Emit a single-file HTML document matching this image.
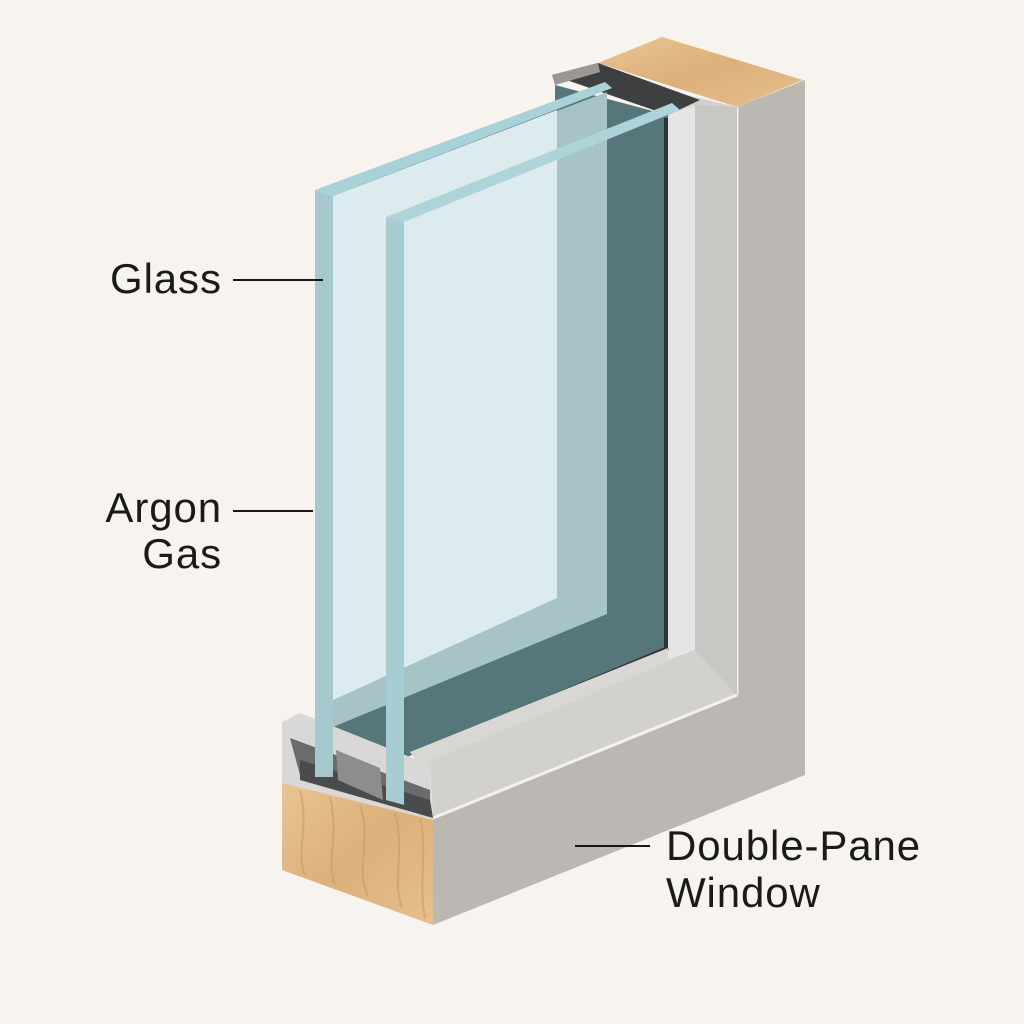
<!DOCTYPE html>
<html><head><meta charset="utf-8"><style>
html,body{margin:0;padding:0;background:#f7f4f0;}
svg{display:block}
text{font-family:"Liberation Sans","DejaVu Sans",sans-serif;fill:#1a1a1a;font-size:42px;letter-spacing:0.9px}
</style></head><body>
<svg width="1024" height="1024" viewBox="0 0 1024 1024" xmlns="http://www.w3.org/2000/svg">
<rect width="1024" height="1024" fill="#f7f4f0"/>
<defs>
<linearGradient id="wood" x1="0" y1="0" x2="1" y2="1">
<stop offset="0" stop-color="#e9c592"/><stop offset="0.5" stop-color="#dcb07a"/><stop offset="1" stop-color="#e6c08d"/>
</linearGradient>
</defs>
<polygon points="598,63 662,37 803,80 737,107" fill="url(#wood)"/>
<polygon points="737,107 805,80 805,775 433,925 433,818 737,695" fill="#bbb8b4"/>
<polygon points="590,72 737,107 737,695 433,818 430,770 410,760 660,655 668,118" fill="#d3d1ce"/>
<line x1="737" y1="107" x2="737" y2="695" stroke="#f2f1ef" stroke-width="3"/>
<line x1="737" y1="695" x2="433" y2="818" stroke="#f2f1ef" stroke-width="3"/>
<polygon points="668,115 695,105 695,650 668,660" fill="#e6e5e3"/>
<polygon points="695,105 737,107 737,695 695,650" fill="#c9c7c4"/>
<polygon points="552,75 598,63 700,100 668,115" fill="#3d3f41"/>
<polygon points="552,75 598,63 600,72 555,85" fill="#9a9896"/>
<!-- dark recess -->
<polygon points="333,196 555,101 555,85 668,115 668,648 420,752 333,785" fill="#56767c"/>
<polygon points="664,118 668,118 668,648 664,650" fill="#2e3436"/>
<line x1="668" y1="648" x2="420" y2="752" stroke="#2e3436" stroke-width="4"/>
<polygon points="410,752 668,648 668,662 420,765" fill="#d8d7d4"/>
<polygon points="333,196 607,92 607,614 333,727" fill="#a6c3c6"/>
<polygon points="333,196 557,110 557,598 333,700" fill="#dcecee"/>
<!-- sill profile -->
<polygon points="282,722 300,713 430,765 430,775 433,820 282,783" fill="#d9d8d6"/>
<polygon points="290,738 430,790 430,815 300,775" fill="#6a6b6c"/>
<polygon points="300,760 430,800 433,818 300,780" fill="#4a4b4c"/>
<polygon points="336,750 380,768 383,800 338,780" fill="#8b8d8f"/>
<polygon points="282,783 433,820 433,925 282,870" fill="url(#wood)"/>
<g stroke="#c99a63" stroke-width="2" fill="none" opacity="0.6">
<path d="M300,790 C310,830 295,850 305,875"/><path d="M330,797 C340,840 325,860 335,885"/>
<path d="M360,805 C372,840 355,870 368,896"/><path d="M395,813 C405,850 392,880 402,908"/>
<path d="M420,818 C428,850 418,885 425,918"/>
</g>
<polygon points="315,190 605,82 612,88 333,196" fill="#a9d2d8"/>
<polygon points="315,190 333,196 333,777 315,777" fill="#a5c9cf"/>
<polygon points="386,217 672,103 680,110 404,222" fill="#aed4da"/>
<polygon points="386,217 404,222 404,805 386,800" fill="#a7ccd2"/>
<line x1="233" y1="280" x2="323" y2="280" stroke="#161616" stroke-width="2"/>
<line x1="233" y1="511" x2="313" y2="511" stroke="#161616" stroke-width="2"/>
<line x1="575" y1="846" x2="650" y2="846" stroke="#161616" stroke-width="2"/>
<text x="110" y="293">Glass</text>
<text x="222" y="522" text-anchor="end">Argon</text>
<text x="222" y="568" text-anchor="end">Gas</text>
<text x="666" y="860">Double-Pane</text>
<text x="666" y="907">Window</text>
</svg>
</body></html>
